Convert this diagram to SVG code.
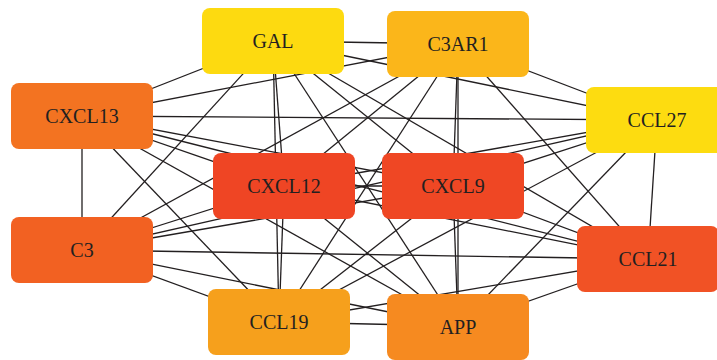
<svg xmlns="http://www.w3.org/2000/svg" width="717" height="360" viewBox="0 0 717 360">
<style>
.e{stroke:#231F20;stroke-width:1.3;fill:none}
.n rect{stroke:none}
.n text{font-family:"Liberation Serif","Times New Roman",serif;font-size:20px;fill:#231F20;text-anchor:middle}
</style>
<rect width="717" height="360" fill="#fff"/>
<g id="edges" class="e">
<line x1="273" y1="41" x2="458" y2="44"/>
<line x1="273" y1="41" x2="82" y2="116"/>
<line x1="273" y1="41" x2="657" y2="120"/>
<line x1="273" y1="41" x2="284" y2="186"/>
<line x1="273" y1="41" x2="453" y2="186"/>
<line x1="273" y1="41" x2="82" y2="250"/>
<line x1="273" y1="41" x2="279" y2="322"/>
<line x1="273" y1="41" x2="648" y2="259"/>
<line x1="273" y1="41" x2="458" y2="326"/>
<line x1="458" y1="44" x2="82" y2="116"/>
<line x1="458" y1="44" x2="657" y2="120"/>
<line x1="458" y1="44" x2="284" y2="186"/>
<line x1="458" y1="44" x2="453" y2="186"/>
<line x1="458" y1="44" x2="82" y2="250"/>
<line x1="458" y1="44" x2="279" y2="322"/>
<line x1="458" y1="44" x2="648" y2="259"/>
<line x1="458" y1="44" x2="458" y2="326"/>
<line x1="82" y1="116" x2="657" y2="120"/>
<line x1="82" y1="116" x2="284" y2="186"/>
<line x1="82" y1="116" x2="453" y2="186"/>
<line x1="82" y1="116" x2="82" y2="250"/>
<line x1="82" y1="116" x2="279" y2="322"/>
<line x1="82" y1="116" x2="648" y2="259"/>
<line x1="82" y1="116" x2="458" y2="326"/>
<line x1="657" y1="120" x2="284" y2="186"/>
<line x1="657" y1="120" x2="453" y2="186"/>
<line x1="657" y1="120" x2="82" y2="250"/>
<line x1="657" y1="120" x2="279" y2="322"/>
<line x1="657" y1="120" x2="648" y2="259"/>
<line x1="657" y1="120" x2="458" y2="326"/>
<line x1="284" y1="186" x2="453" y2="186"/>
<line x1="284" y1="186" x2="82" y2="250"/>
<line x1="284" y1="186" x2="279" y2="322"/>
<line x1="284" y1="186" x2="648" y2="259"/>
<line x1="284" y1="186" x2="458" y2="326"/>
<line x1="453" y1="186" x2="82" y2="250"/>
<line x1="453" y1="186" x2="279" y2="322"/>
<line x1="453" y1="186" x2="648" y2="259"/>
<line x1="453" y1="186" x2="458" y2="326"/>
<line x1="82" y1="250" x2="279" y2="322"/>
<line x1="82" y1="250" x2="648" y2="259"/>
<line x1="82" y1="250" x2="458" y2="326"/>
<line x1="279" y1="322" x2="648" y2="259"/>
<line x1="279" y1="322" x2="458" y2="326"/>
<line x1="648" y1="259" x2="458" y2="326"/>
</g>
<g id="GAL" class="n"><rect x="202" y="8" width="142" height="66" rx="8" fill="#FDDA10"/><text x="273" y="48">GAL</text></g>
<g id="C3AR1" class="n"><rect x="387" y="11" width="142" height="66" rx="8" fill="#FBB61A"/><text x="458" y="51">C3AR1</text></g>
<g id="CXCL13" class="n"><rect x="11" y="83" width="142" height="66" rx="8" fill="#F37321"/><text x="82" y="123">CXCL13</text></g>
<g id="CCL27" class="n"><rect x="586" y="87" width="142" height="66" rx="8" fill="#FDDC10"/><text x="657" y="127">CCL27</text></g>
<g id="CXCL12" class="n"><rect x="213" y="153" width="142" height="66" rx="8" fill="#EF4524"/><text x="284" y="193">CXCL12</text></g>
<g id="CXCL9" class="n"><rect x="382" y="153" width="142" height="66" rx="8" fill="#EF4724"/><text x="453" y="193">CXCL9</text></g>
<g id="C3" class="n"><rect x="11" y="217" width="142" height="66" rx="8" fill="#F26122"/><text x="82" y="257">C3</text></g>
<g id="CCL19" class="n"><rect x="208" y="289" width="142" height="66" rx="8" fill="#F6A01C"/><text x="279" y="329">CCL19</text></g>
<g id="CCL21" class="n"><rect x="577" y="226" width="142" height="66" rx="8" fill="#F15225"/><text x="648" y="266">CCL21</text></g>
<g id="APP" class="n"><rect x="387" y="294" width="142" height="66" rx="8" fill="#F68A20"/><text x="458" y="334">APP</text></g>
</svg>
